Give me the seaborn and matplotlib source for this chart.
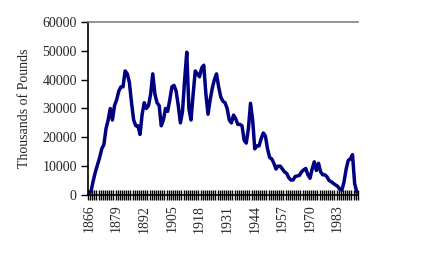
import matplotlib
matplotlib.use("Agg")
import matplotlib.pyplot as plt
import seaborn as sns
import pandas as pd
import numpy as np
from matplotlib.ticker import FixedLocator

years = list(range(1866, 1993))
pounds = [
    500, 1500, 5000, 8000, 10500, 13000, 16000, 17500, 23000, 26000,
    30000, 26000, 31000, 33000, 36000, 37500, 37500, 43000, 42000, 39000,
    32000, 26000, 24000, 24000, 21000, 28000, 32000, 30000, 31000, 35000,
    42000, 35000, 32000, 31000, 24000, 26000, 30000, 29000, 33000, 37500,
    38000, 36000, 31000, 25000, 29000, 40000, 49500, 30000, 26000, 35000,
    43000, 42000, 41000, 44000, 45000, 35000, 28000, 33000, 37000, 40000,
    42000, 37500, 34000, 32500, 32000, 30000, 26000, 25000, 27700, 26500,
    24500, 24500, 24000, 19000, 18000, 23000, 31800, 26000, 16000, 17000,
    17000, 19500, 21500, 20500, 16000, 13000, 12500, 11000, 9000, 10000,
    10000, 9000, 8000, 7500, 6000, 5200, 5200, 6400, 6600, 6800,
    8000, 8700, 9200, 7000, 5800, 9000, 11500, 8500, 11000, 8000,
    7000, 7000, 6300, 5000, 4600, 4000, 3500, 3000, 2000, 1700,
    4500, 9000, 12000, 12500, 14000, 4000, 1000,
]
tick_years = [1866, 1879, 1892, 1905, 1918, 1931, 1944, 1957, 1970, 1983]
y_ticks = [0, 10000, 20000, 30000, 40000, 50000, 60000]

df = pd.DataFrame({"pos": np.arange(len(years)), "year": years, "pounds": pounds})

sns.set_style("white")
plt.rcParams["font.family"] = ["Liberation Serif", "DejaVu Serif"]

fig = plt.figure(figsize=(4.27, 2.76), dpi=100)
ax = fig.add_axes([0.206, 0.2935, 0.632, 0.627])

sns.lineplot(data=df, x="pos", y="pounds", ax=ax, color="#000080", linewidth=2.5)

n = len(years)
ax.set_xlim(-0.5, n - 0.5)
ax.set_ylim(0, 60000)

major_pos = [years.index(y) for y in tick_years]
ax.set_xticks(major_pos)
ax.set_xticklabels([str(y) for y in tick_years], rotation=90, fontsize=10)
ax.xaxis.set_minor_locator(FixedLocator(np.arange(n + 1) - 0.5))
ax.tick_params(axis="x", which="major", length=0, pad=7)
ax.tick_params(axis="x", which="minor", length=6.5, width=1, direction="inout", color="black", bottom=True)

ax.set_yticks(y_ticks)
ax.set_yticklabels([str(v) for v in y_ticks], fontsize=10)
ax.tick_params(axis="y", which="major", length=5, width=1, direction="out", color="black", left=True, pad=3)

ax.set_xlabel("")
ax.set_ylabel("Thousands of Pounds", fontsize=10, labelpad=8)

for s in ["left", "bottom"]:
    ax.spines[s].set_color("black")
    ax.spines[s].set_linewidth(1.2)
ax.spines["right"].set_visible(False)
ax.spines["top"].set_color("#808080")
ax.spines["top"].set_linewidth(1.2)

fig.savefig("out.png", dpi=100)
